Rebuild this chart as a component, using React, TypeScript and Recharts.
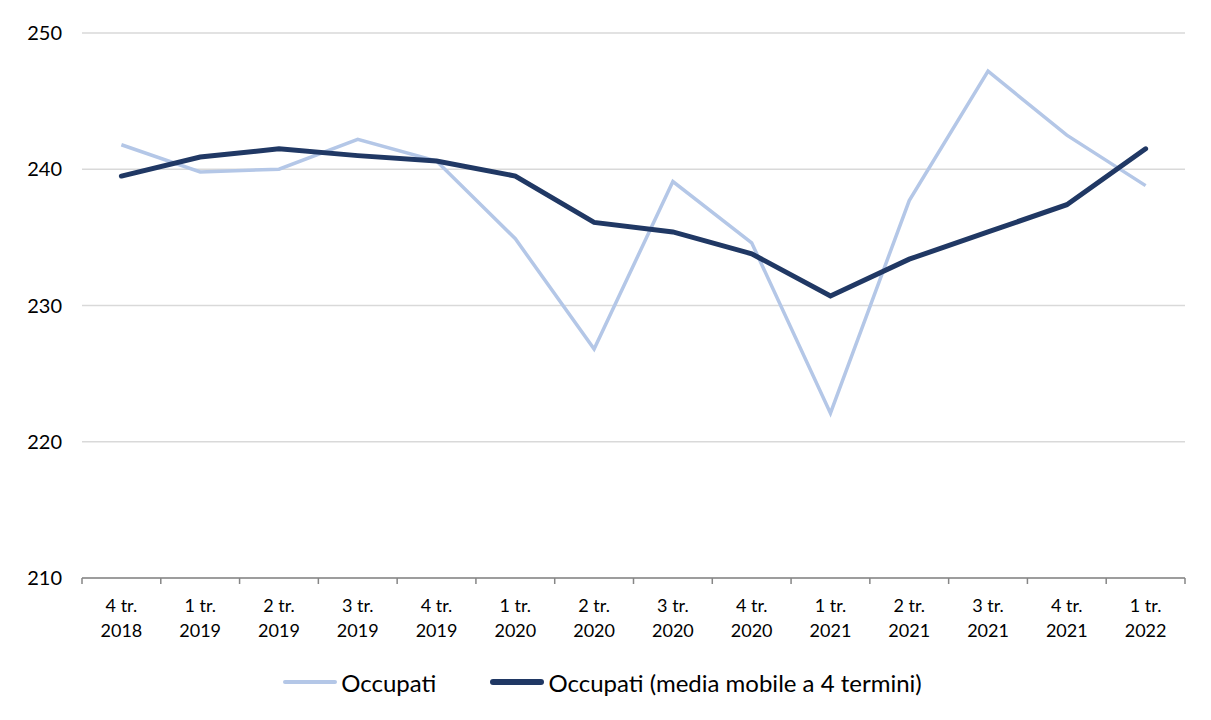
import React from "react";
import { CartesianGrid, Legend, Line, LineChart, XAxis, YAxis } from "recharts";

const categories = [
  "4 tr. 2018", "1 tr. 2019", "2 tr. 2019", "3 tr. 2019", "4 tr. 2019",
  "1 tr. 2020", "2 tr. 2020", "3 tr. 2020", "4 tr. 2020",
  "1 tr. 2021", "2 tr. 2021", "3 tr. 2021", "4 tr. 2021", "1 tr. 2022",
];
const occupati = [241.8, 239.8, 240.0, 242.2, 240.6, 234.9, 226.8, 239.1, 234.6, 222.1, 237.7, 247.2, 242.5, 238.8];
const mediaMobile = [239.5, 240.9, 241.5, 241.0, 240.6, 239.5, 236.1, 235.4, 233.8, 230.7, 233.4, 235.4, 237.4, 241.5];
const yTicks = [210, 220, 230, 240, 250];

const LIGHT = "#b4c7e7";
const DARK = "#203864";
const AXIS = "#868686";
const FONT = "Lato, 'Noto Sans', sans-serif";

const data = categories.map((c, i) => ({ label: c, occupati: occupati[i], media: mediaMobile[i] }));

// Excel-style category axis: tick marks sit between the categories, labels on two lines
function QuarterTick(props: any) {
  const { x, y, payload, index, visibleTicksCount, width } = props;
  const step = width / visibleTicksCount;
  const [q, year] = [payload.value.slice(0, 5), payload.value.slice(6)];
  return (
    <g>
      <line x1={x - step / 2} x2={x - step / 2} y1={y} y2={y + 6} stroke={AXIS} strokeWidth={1.5} />
      {index === visibleTicksCount - 1 && (
        <line x1={x + step / 2} x2={x + step / 2} y1={y} y2={y + 6} stroke={AXIS} strokeWidth={1.5} />
      )}
      <text x={x} y={y} textAnchor="middle" fill="#000" fontSize={18} fontFamily={FONT}>
        <tspan x={x} dy={34}>{q}</tspan>
        <tspan x={x} dy={25}>{year}</tspan>
      </text>
    </g>
  );
}

function LegendBox() {
  const item = (color: string, w: number, text: string, gap: number) => (
    <span style={{ display: "inline-flex", alignItems: "center", marginRight: gap }}>
      <span style={{ width: 54, height: w, background: color, borderRadius: w / 2, marginRight: 4 }} />
      <span>{text}</span>
    </span>
  );
  return (
    <div style={{ height: 40, display: "flex", justifyContent: "center", alignItems: "center", fontFamily: FONT, fontSize: 24, color: "#000" }}>
      {item(LIGHT, 4, "Occupati", 54)}
      {item(DARK, 6, "Occupati (media mobile a 4 termini)", 0)}
    </div>
  );
}

export default function App() {
  return (
    <div style={{ position: "relative", width: 1211, height: 720, margin: -8, overflow: "hidden", background: "#fff" }}>
      <div style={{ position: "absolute", left: 4, top: 4, width: 1230, height: 740, border: "1px solid #d9d9d9" }} />
      <div style={{ position: "absolute", left: 0, top: 0 }}>
        <LineChart width={1211} height={720} data={data} margin={{ top: 33, right: 26, left: 20, bottom: 18 }}>
          <CartesianGrid stroke="#d9d9d9" strokeWidth={1.3} vertical={false} />
          <XAxis
            dataKey="label"
            interval={0}
            tick={<QuarterTick />}
            tickLine={false}
            tickSize={0}
            tickMargin={0}
            axisLine={{ stroke: AXIS, strokeWidth: 1.5 }}
            padding={{ left: 39.4, right: 39.4 }}
            height={84}
          />
          <YAxis
            domain={[210, 250]}
            ticks={yTicks}
            tickLine={false}
            axisLine={false}
            width={62}
            tickMargin={14}
            tick={{ fill: "#000", fontSize: 20, fontFamily: FONT }}
          />
          <Legend verticalAlign="bottom" content={<LegendBox />} />
          <Line dataKey="occupati" stroke={LIGHT} strokeWidth={3.5} dot={false} isAnimationActive={false} />
          <Line dataKey="media" stroke={DARK} strokeWidth={5} dot={false} isAnimationActive={false} strokeLinecap="round" />
        </LineChart>
      </div>
    </div>
  );
}
